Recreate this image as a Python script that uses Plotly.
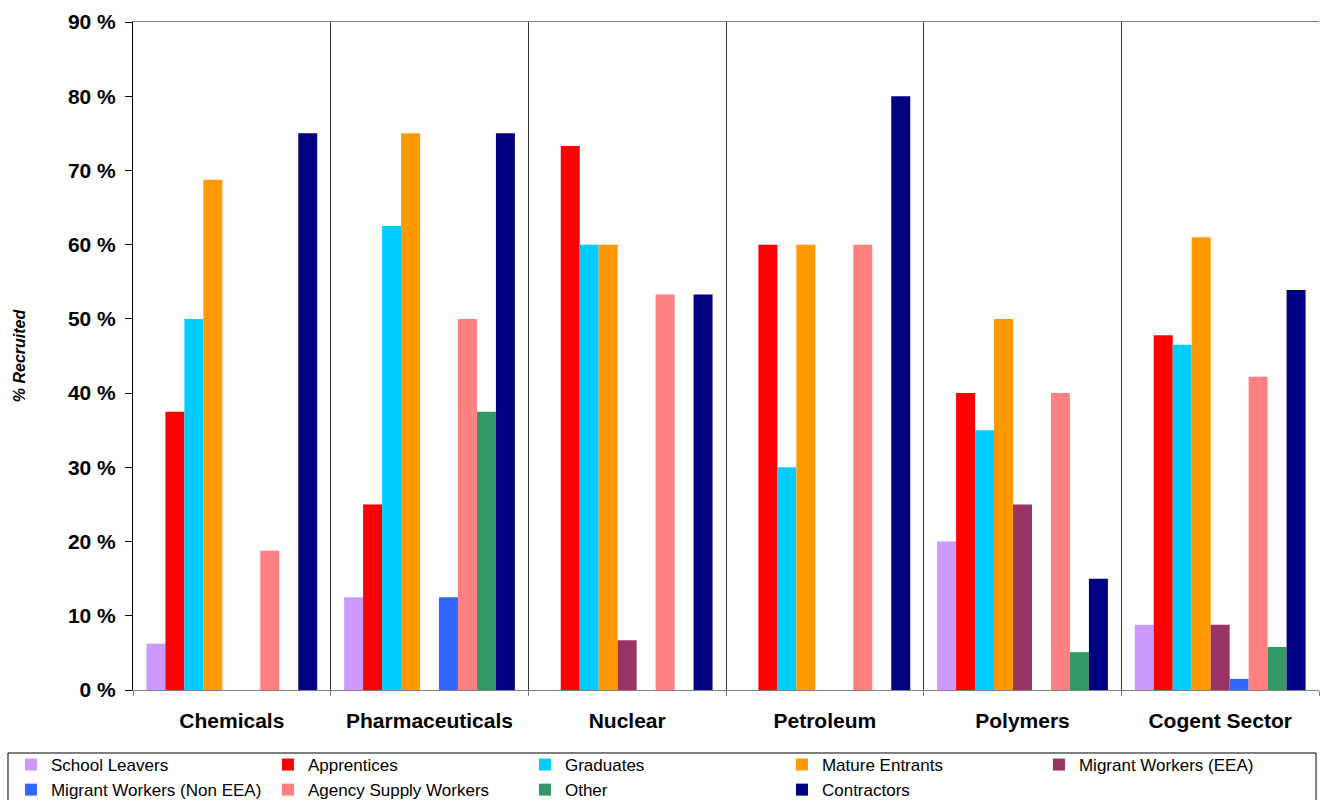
import plotly.graph_objects as go

# Sectors along the x axis
sectors = ["Chemicals", "Pharmaceuticals", "Nuclear", "Petroleum", "Polymers", "Cogent Sector"]

# % recruited from each source, one list per source (ordered as sectors)
school_leavers = [6.25, 12.5, 0, 0, 20, 8.8]
apprentices = [37.5, 25, 73.3, 60, 40, 47.8]
graduates = [50, 62.5, 60, 30, 35, 46.5]
mature_entrants = [68.75, 75, 60, 60, 50, 61.0]
migrant_eea = [0, 0, 6.7, 0, 25, 8.8]
migrant_non_eea = [0, 12.5, 0, 0, 0, 1.5]
agency_supply = [18.75, 50, 53.3, 60, 40, 42.2]
other = [0, 37.5, 0, 0, 5.1, 5.8]
contractors = [75, 75, 53.3, 80, 15, 53.9]

series = [
    ("School Leavers", school_leavers, "#CC99FF"),
    ("Apprentices", apprentices, "#FF0000"),
    ("Graduates", graduates, "#00CCFF"),
    ("Mature Entrants", mature_entrants, "#FF9900"),
    ("Migrant Workers (EEA)", migrant_eea, "#993366"),
    ("Migrant Workers (Non EEA)", migrant_non_eea, "#3366FF"),
    ("Agency Supply Workers", agency_supply, "#FF8080"),
    ("Other", other, "#339966"),
    ("Contractors", contractors, "#000080"),
]

FONT = "Liberation Sans, Arial, Helvetica, sans-serif"

fig = go.Figure()
for name, values, color in series:
    fig.add_trace(go.Bar(
        name=name, x=sectors, y=values,
        marker=dict(color=color, line=dict(width=0)),
    ))

fig.update_layout(
    width=1320, height=800,
    barmode="group", bargap=0.136, bargroupgap=0,
    plot_bgcolor="white", paper_bgcolor="white",
    margin=dict(l=133, r=1, t=22, b=110, autoexpand=False),
    font=dict(family=FONT, color="black"),
    showlegend=True,
    legend=dict(
        orientation="h",
        x=-0.1029, xanchor="left",
        y=-0.0853, yanchor="top",
        entrywidth=212, entrywidthmode="pixels",
        font=dict(family=FONT, size=17, color="black"),
        borderwidth=0, bgcolor="rgba(0,0,0,0)",
        traceorder="normal",
    ),
    # frame around the legend, running off the bottom of the page
    shapes=[dict(
        type="rect", xref="paper", yref="paper",
        x0=-0.1054, x1=0.9975, y0=-0.1900, y1=-0.0943,
        line=dict(color="black", width=1), fillcolor="rgba(0,0,0,0)",
        layer="below",
    )],
)

fig.update_xaxes(
    type="category",
    tickson="boundaries",
    showgrid=True, gridcolor="#333333", gridwidth=1,
    showline=True, linecolor="#808080", linewidth=1, mirror=True,
    ticks="outside", ticklen=5, tickcolor="#808080",
    tickfont=dict(family=FONT, size=21, color="black", weight="bold"),
    ticklabelstandoff=12,
)

fig.update_yaxes(
    range=[0, 90],
    tick0=0, dtick=10,
    ticksuffix=" %",
    showgrid=False, zeroline=False,
    showline=True, linecolor="black", linewidth=1,
    ticks="outside", ticklen=7, tickcolor="black",
    tickfont=dict(family=FONT, size=21, color="black", weight="bold"),
    ticklabelstandoff=5,
    title=dict(
        text="<i>% Recruited</i>",
        font=dict(family=FONT, size=16, color="black", weight="bold"),
        standoff=38,
    ),
)

fig.write_html("out.html")
